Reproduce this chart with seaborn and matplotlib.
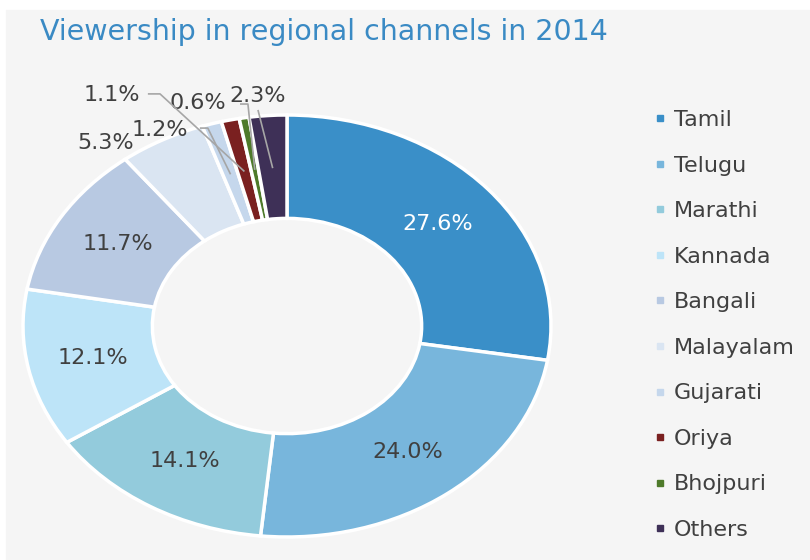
import numpy as np
import seaborn as sns
import matplotlib.pyplot as plt
from matplotlib.lines import Line2D
from matplotlib.patches import Rectangle

sns.set_theme(style="white")
plt.rcParams['font.family'] = ['DejaVu Sans']

# ---- data ----
categories = ['Tamil', 'Telugu', 'Marathi', 'Kannada', 'Bangali',
              'Malayalam', 'Gujarati', 'Oriya', 'Bhojpuri', 'Others']
shares = [27.6, 24.0, 14.1, 12.1, 11.7, 5.3, 1.2, 1.1, 0.6, 2.3]
colors = ['#3a8fc8', '#78b6dc', '#93cbdc', '#bde4f8', '#b8c9e2',
          '#dae5f2', '#c5d7ec', '#7a2020', '#4e7a2a', '#3e3057']
title = 'Viewership in regional channels in 2014'

# label placement for the thin slices (text pos, leader start/elbow)
outside = {
    'Malayalam': dict(xy=(-0.686, 0.867), stub=None),
    'Gujarati': dict(xy=(-0.481, 0.929), stub=(-0.33, -0.30, 0.938)),
    'Oriya': dict(xy=(-0.663, 1.095), stub=(-0.527, -0.481, 1.10)),
    'Bhojpuri': dict(xy=(-0.337, 1.057), stub=(-0.178, -0.148, 1.052)),
    'Others': dict(xy=(-0.11, 1.09), stub=(-0.11, -0.11, 1.024)),
}

text_col = '#404040'
bg = '#f5f5f5'

fig = plt.figure(figsize=(8.1, 5.6), dpi=100, facecolor='white')
fig.patches.append(Rectangle((6 / 810, 0), 1, 1 - 10 / 560,
                             transform=fig.transFigure, color=bg, zorder=-10))

ax = fig.add_axes([0, 0, 1, 1])
ax.patch.set_alpha(0)

wedges, _ = ax.pie(
    shares,
    colors=colors,
    startangle=90,
    counterclock=False,
    radius=1,
    wedgeprops=dict(width=0.49, edgecolor='white', linewidth=2.5),
)
# stretched (elliptical) donut like the reference
ax.set_aspect('auto')
ax.set_xlim(-287 / 264, 523 / 264)
ax.set_ylim(-234 / 211, 326 / 211)
ax.axis('off')

for w, cat, v in zip(wedges, categories, shares):
    mid = np.deg2rad((w.theta1 + w.theta2) / 2)
    label = f"{v:.1f}%"
    if cat in outside:
        spec = outside[cat]
        ax.text(*spec['xy'], label, ha='center', va='center',
                fontsize=16, color=text_col)
        if spec['stub'] is not None:
            x0, x1, y = spec['stub']
            ex, ey = 0.75 * np.cos(mid), 0.75 * np.sin(mid)
            ax.plot([x0, x1, ex], [y, y, ey], color='#a6a6a6', lw=1.2,
                    solid_capstyle='butt', zorder=5)
    else:
        ax.text(0.75 * np.cos(mid), 0.75 * np.sin(mid), label,
                ha='center', va='center', fontsize=16,
                color='white' if cat == 'Tamil' else text_col)

fig.text(40 / 810, 1 - 32 / 560, title, ha='left', va='center',
         fontsize=20.5, color='#3a8ac4')

handles = [Line2D([], [], marker='s', linestyle='', markersize=4.5,
                  markerfacecolor=c, markeredgecolor=c) for c in colors]
leg = ax.legend(handles, categories, loc='upper left',
                bbox_to_anchor=(653 / 810, 1 - 110 / 560),
                bbox_transform=fig.transFigure, frameon=False,
                fontsize=16, handlelength=0.6, handletextpad=0.35,
                labelspacing=1.15, borderpad=0, borderaxespad=0)
for t in leg.get_texts():
    t.set_color(text_col)

plt.savefig('out.png', dpi=100, facecolor=fig.get_facecolor())
plt.close()
